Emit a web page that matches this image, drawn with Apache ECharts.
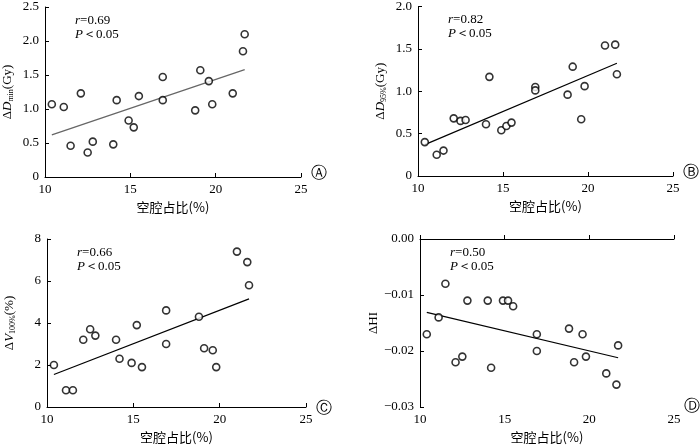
<!DOCTYPE html>
<html><head><meta charset="utf-8">
<script src="https://cdn.jsdelivr.net/npm/echarts@6/dist/echarts.min.js"></script>
<style>body{margin:0;background:#fff}#main{width:700px;height:445px}</style>
</head><body><div id="main"></div>
<script>
var ratio = [10.4, 11.1, 11.5, 12.1, 12.5, 12.8, 14.0, 14.2, 14.9, 15.2, 15.5, 16.9, 16.9, 18.8, 19.1, 19.6, 19.8, 21.0, 21.6, 21.7];
var dMin = [1.07, 1.03, 0.46, 1.23, 0.36, 0.52, 0.48, 1.13, 0.83, 0.73, 1.19, 1.47, 1.13, 0.98, 1.57, 1.41, 1.07, 1.23, 1.85, 2.10];
var d95 = [0.40, 0.25, 0.30, 0.68, 0.65, 0.66, 0.61, 1.17, 0.54, 0.59, 0.63, 1.05, 1.01, 0.96, 1.29, 0.67, 1.06, 1.54, 1.55, 1.20];
var v100 = [2.0, 0.8, 0.8, 3.2, 3.7, 3.4, 3.2, 2.3, 2.1, 3.9, 1.9, 4.6, 3.0, 4.3, 2.8, 2.7, 1.9, 7.4, 6.9, 5.8];
var dHI = [-0.017, -0.014, -0.008, -0.022, -0.021, -0.011, -0.011, -0.023, -0.011, -0.011, -0.012, -0.017, -0.020, -0.016, -0.022, -0.017, -0.021, -0.024, -0.026, -0.019];
var fitA = [[10.4, 0.62], [21.7, 1.58]];
var fitB = [[10.4, 0.37], [21.7, 1.33]];
var fitC = [[10.4, 1.55], [21.7, 5.15]];
var fitD = [[10.4, -0.0131], [21.7, -0.0212]];

var font = 'Liberation Serif';
var grids = [
  {left: 45, right: 399, top: 7, bottom: 268},
  {left: 418, right: 27, top: 6, bottom: 269},
  {left: 47, right: 394, top: 239, bottom: 33},
  {left: 420, right: 26, top: 239, bottom: 35}
];
var yCfg = [
  {min: 0, max: 2.5, interval: 0.5, dec: 1, name: ['D', 'min', '(Gy)']},
  {min: 0, max: 2.0, interval: 0.5, dec: 1, name: ['D', '95%', '(Gy)']},
  {min: 0, max: 8, interval: 2, dec: 0, name: ['V', '100%', '(%)']},
  {min: -0.03, max: 0, interval: 0.01, dec: 2, name: ['', '', 'HI']}
];
var ys = [dMin, d95, v100, dHI];
var fits = [fitA, fitB, fitC, fitD];
var stats = [['0.69'], ['0.82'], ['0.66'], ['0.50']];
var letters = ['Ⓐ', 'Ⓑ', 'Ⓒ', 'Ⓓ'];
var lineColors = ['#666', '#000', '#000', '#000'];

var axisStyle = {lineStyle: {color: '#000', width: 1}};
var option = {
  animation: false,
  grid: grids,
  xAxis: grids.map(function (g, i) {
    return {
      gridIndex: i, type: 'value', min: 10, max: 25, interval: 5,
      axisLine: axisStyle, axisTick: {inside: true, length: 4, lineStyle: {color: '#000'}},
      splitLine: {show: false},
      axisLabel: {color: '#000', fontFamily: font, fontSize: 13, margin: 6},
      name: '空腔占比(%)', nameLocation: 'middle', nameGap: 24,
      nameTextStyle: {color: '#000', fontFamily: 'Noto Sans CJK SC', fontSize: 13}
    };
  }),
  yAxis: yCfg.map(function (c, i) {
    var nm = '{a|Δ}' + (c.name[0] ? '{it|' + c.name[0] + '}' : '') + (c.name[1] ? '{s|' + c.name[1] + '}' : '') + '{a|' + c.name[2] + '}';
    return {
      gridIndex: i, type: 'value', min: c.min, max: c.max, interval: c.interval,
      axisLine: axisStyle, axisTick: {inside: true, length: 4, lineStyle: {color: '#000'}},
      splitLine: {show: false},
      axisLabel: {color: '#000', fontFamily: font, fontSize: 13, margin: 6,
        formatter: function (v) { return v === 0 && i < 3 ? '0' : (v < 0 ? '−' + Math.abs(v).toFixed(c.dec) : v.toFixed(c.dec)); }},
      name: nm,
      nameLocation: 'middle', nameGap: i === 3 ? 40 : 30,
      nameTextStyle: {rich: {
        a: {fontFamily: font, fontSize: 13, color: '#000'},
        it: {fontFamily: font, fontSize: 13, color: '#000', fontStyle: 'italic'},
        s: {fontFamily: font, fontSize: 8, color: '#000', verticalAlign: 'bottom', padding: [6, 0, 0, 0]}
      }}
    };
  }),
  series: [],
  graphic: []
};
ys.forEach(function (y, i) {
  option.series.push({
    type: 'scatter', xAxisIndex: i, yAxisIndex: i,
    data: ratio.map(function (x, k) { return [x, y[k]]; }),
    symbol: 'circle', symbolSize: 7,
    itemStyle: {color: '#fff', borderColor: '#000', borderWidth: 1.6}, z: 3
  });
  option.series.push({
    type: 'line', xAxisIndex: i, yAxisIndex: i, data: fits[i],
    symbol: 'none', lineStyle: {color: lineColors[i], width: 1.2}, z: 2
  });
  var g = grids[i];
  option.graphic.push({
    type: 'text', left: g.left + 30, top: g.top + 7,
    style: {text: '{i|r}=' + stats[i][0] + '\n{i|P}＜0.05', font: '13px ' + font, fill: '#000', lineHeight: 14,
      rich: {i: {fontStyle: 'italic', fontFamily: font, fontSize: 13}}}
  });
  option.graphic.push({
    type: 'text', left: 700 - g.right + 10, top: 445 - g.bottom - 11,
    style: {text: letters[i], font: '16px DejaVu Sans', fill: '#000'}
  });
});
echarts.init(document.getElementById('main')).setOption(option);
</script></body></html>
